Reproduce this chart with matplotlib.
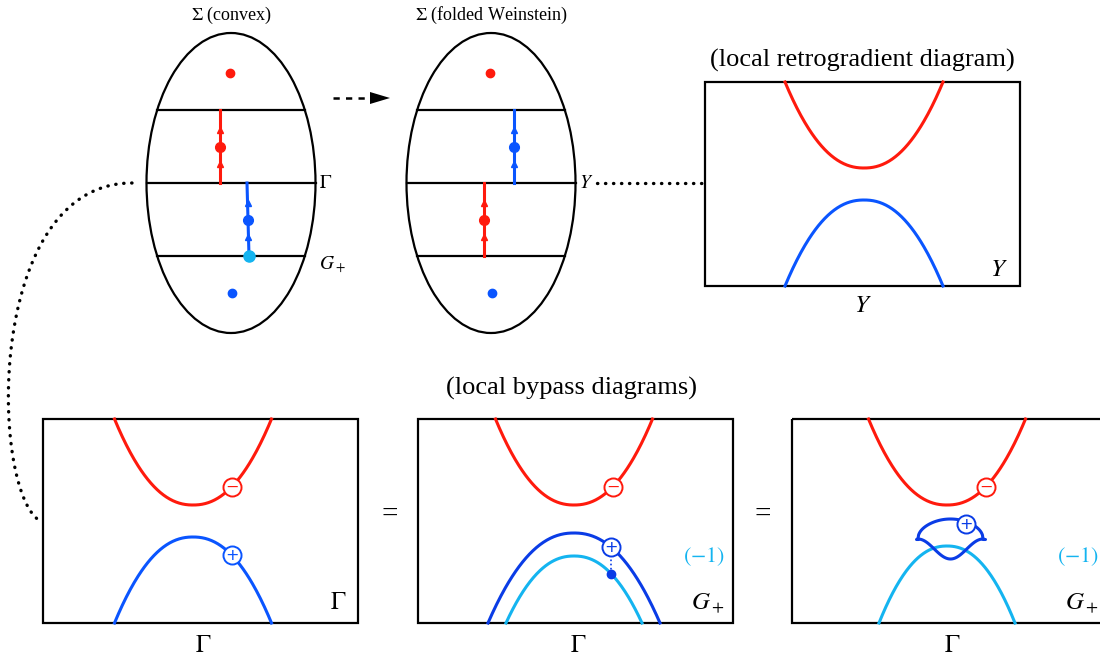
import numpy as np
import matplotlib
matplotlib.use('Agg')
import matplotlib.pyplot as plt
from matplotlib.patches import Ellipse, Rectangle

plt.rcParams['font.family'] = ['Liberation Serif', 'DejaVu Serif']
plt.rcParams['mathtext.fontset'] = 'stix'

RED   = '#ff1a0d'
BLUE  = '#0a55ff'
DBLUE = '#0a3ce6'
LBLUE = '#14b4f0'

## ellipse pictures (pixel coords of the reference)
ell_cx     = [231, 491]
ell_titles = [r'$\Sigma$ (convex)', r'$\Sigma$ (folded Weinstein)']
ell_labels = [[(r'$\Gamma$', 183), (r'$G_+$', 265)], [(r'$Y$', 183)]]
chords_y   = [110, 183, 256]
# vertical flow segments: (x top, y top, x bottom, y bottom, colour)
segments   = [[(220, 110, 220, 183, RED), (247, 183, 249, 256, BLUE)],
              [(514, 110, 514, 183, BLUE), (484, 183, 484, 256, RED)]]

## diagram panels: left, top
panels_left = [43, 418, 792]
panel_top   = 419
top_panel   = (705, 82)
pw, ph      = 315, 204

## curve shapes: offset of centre from panel left, vertex depth, half width
arc_off   = [150, 156, 155]
red_depth = 86
blue_rise = 86
half_w    = 78.5
shape_p   = 2.2


def arc(cx, vy, half, yend, n=200):
    x = np.linspace(cx - half, cx + half, n)
    t = np.abs(x - cx) / half
    return x, vy + (yend - vy) * t**shape_p


def arc_y(cx, vy, half, yend, x):
    return vy + (yend - vy) * (abs(x - cx) / half)**shape_p


fig = plt.figure(figsize=(11, 6.6), dpi=100)
ax = fig.add_axes([0, 0, 1, 1])
ax.set_xlim(0, 1100)
ax.set_ylim(660, 0)
ax.axis('off')

# ---- ellipses ----
for k, cx in enumerate(ell_cx):
    ax.add_patch(Ellipse((cx, 183), 169, 300, fill=False, lw=1.6, ec='k'))
    for cy in chords_y:
        hw = 84.5 * np.sqrt(1 - ((cy - 183) / 150.0)**2)
        ax.plot([cx - hw, cx + hw], [cy, cy], 'k', lw=1.6)
    ax.plot(cx - 1, 73, 'o', color=RED, ms=6)
    ax.plot(cx + 1, 293, 'o', color=BLUE, ms=6)
    ax.text(cx, 15, ell_titles[k], ha='center', va='center', fontsize=13)
    for lab, ly in ell_labels[k]:
        ax.text(cx + 88, ly, lab, ha='left', va='center', fontsize=14)
    for x0, y0, x1, y1, c in segments[k]:
        ax.plot([x0, x1], [y0, y1], color=c, lw=2.2)
        ym = (y0 + y1) / 2
        ax.plot((x0 + x1) / 2, ym, 'o', color=c, ms=7)
        for ya in [ym - 17, ym + 17]:
            ax.plot(x0 + (x1 - x0) * (ya - y0) / (y1 - y0), ya, '^', color=c, ms=5)
ax.plot(249, 256, 'o', color=LBLUE, ms=8)

# dashed arrow between ellipses
ax.plot([333, 372], [98, 98], color='k', lw=1.8, ls=(0, (2.5, 2.5)))
ax.fill([370, 390, 370], [92, 98, 104], color='k', lw=0)

# dotted links
ax.plot([597, 702], [183, 183], color='k', lw=2.4, ls=(0, (0.1, 2.3)),
        dash_capstyle='round')
tt = np.linspace(0, 1, 200)
P = np.array([[132, 183], [-15, 183], [-10, 490], [40, 521]])
bx = ((1 - tt)**3 * P[0, 0] + 3 * (1 - tt)**2 * tt * P[1, 0]
      + 3 * (1 - tt) * tt**2 * P[2, 0] + tt**3 * P[3, 0])
by = ((1 - tt)**3 * P[0, 1] + 3 * (1 - tt)**2 * tt * P[1, 1]
      + 3 * (1 - tt) * tt**2 * P[2, 1] + tt**3 * P[3, 1])
ax.plot(bx, by, color='k', lw=2.4, ls=(0, (0.1, 2.3)), dash_capstyle='round')

# ---- top right retrogradient panel ----
L, T = top_panel
ax.add_patch(Rectangle((L, T), pw, ph, fill=False, lw=1.6, ec='k'))
cx = L + 159
x, y = arc(cx, T + red_depth, 79, T)
ax.plot(x, y, color=RED, lw=2.2)
x, y = arc(cx, T + ph - blue_rise, 79, T + ph)
ax.plot(x, y, color=BLUE, lw=2.2)
ax.text(L + pw / 2, T - 22, '(local retrogradient diagram)', ha='center',
        va='center', fontsize=19)
ax.text(L + pw - 12, T + ph - 16, r'$Y$', ha='right', va='center', fontsize=18)
ax.text(L + pw / 2, T + ph + 20, r'$Y$', ha='center', va='center', fontsize=18)

# ---- bottom bypass panels ----
ax.text(572, 388, '(local bypass diagrams)', ha='center', va='center', fontsize=19)


def sign(x, y, c, s):
    ax.plot(x, y, 'o', ms=13, mfc='white', mec=c, mew=1.4, zorder=5)
    ax.text(x, y + 0.5, s, color=c, ha='center', va='center', fontsize=11.5,
            family='DejaVu Sans', zorder=6)


for k, L in enumerate(panels_left):
    T = panel_top
    ax.add_patch(Rectangle((L, T), pw, ph, fill=False, lw=1.6, ec='k'))
    cx = L + arc_off[k]
    rv = T + red_depth
    x, y = arc(cx, rv, half_w, T)
    ax.plot(x, y, color=RED, lw=2.2)
    sign(cx + 39, arc_y(cx, rv, half_w, T, cx + 39), RED, '\u2212')
    ax.text(L + pw / 2 + 3, T + ph + 23, r'$\Gamma$', ha='center', va='center',
            fontsize=18)
    bv = T + ph - blue_rise
    if k == 0:
        x, y = arc(cx, bv, half_w, T + ph)
        ax.plot(x, y, color=BLUE, lw=2.2)
        sign(cx + 39, arc_y(cx, bv, half_w, T + ph, cx + 39), BLUE, '+')
        ax.text(L + pw - 12, T + ph - 20, r'$\Gamma$', ha='right', va='center',
                fontsize=18)
    else:
        ax.text(L + pw - 8, T + ph - 20, r'$G_+$', ha='right', va='center',
                fontsize=18)
        ax.text(L + pw - 8, T + ph - 66, r'$(-1)$', ha='right', va='center',
                fontsize=16, color=LBLUE)
        lv = T + ph - 67 - (10 if k == 2 else 0)
        x, y = arc(cx, lv, 68, T + ph)
        ax.plot(x, y, color=LBLUE, lw=2.2)
        if k == 1:
            dv = bv - 4
            x, y = arc(cx, dv, 86, T + ph)
            ax.plot(x, y, color=DBLUE, lw=2.2)
            px = cx + 37
            py = arc_y(cx, dv, 86, T + ph, px)
            qy = arc_y(cx, lv, 68, T + ph, px)
            ax.plot([px, px], [py, qy], color=DBLUE, lw=1.2, ls=(0, (1, 1.5)))
            ax.plot(px, qy, 'o', color=DBLUE, ms=6)
            sign(px, py, DBLUE, '+')
        else:
            # lens after the bypass
            s = np.linspace(0, 1, 120)
            lx = cx - 29 + 65 * s
            ytop = 539 - 20 * np.sin(np.pi * s)**0.45
            ybot = 539 + 20 * np.sin(np.pi * s)**2
            ax.plot(lx, ytop, color=DBLUE, lw=2.2)
            ax.plot(lx, ybot, color=DBLUE, lw=2.2)
            ax.plot([cx - 31, cx - 29], [539, 539], color=DBLUE, lw=2.2,
                    solid_capstyle='round')
            ax.plot([cx + 36, cx + 38], [539, 539], color=DBLUE, lw=2.2,
                    solid_capstyle='round')
            sign(cx + 19, 524, DBLUE, '+')

# equals signs
for ex in [390, 763]:
    ax.text(ex, 515, '=', ha='center', va='center', fontsize=21)

fig.savefig('out.png', dpi=100)
